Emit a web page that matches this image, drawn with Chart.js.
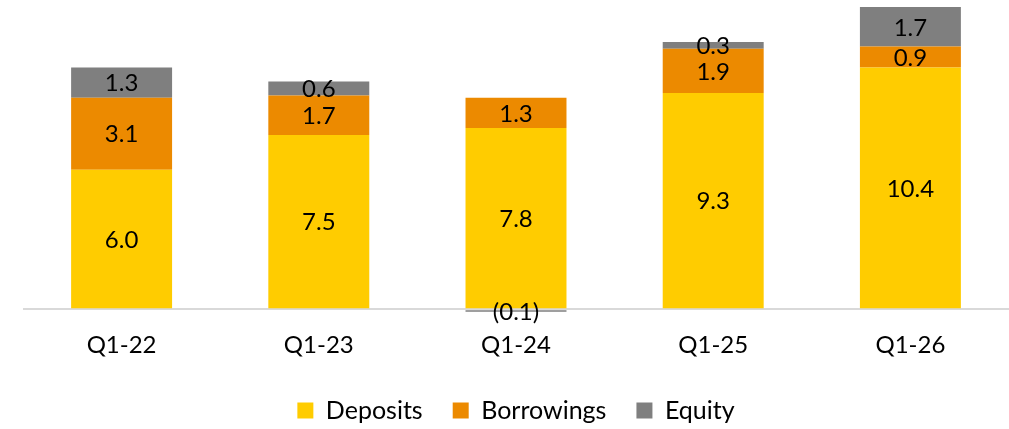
<!DOCTYPE html>
<html>
<head>
<meta charset="utf-8">
<script src="https://cdn.jsdelivr.net/npm/chart.js@4.4.1/dist/chart.umd.min.js"></script>
<style>
  html, body { margin: 0; padding: 0; background: #fff; }
  canvas { display: block; }
</style>
</head>
<body>
<canvas id="fundingChart" width="1009" height="429"></canvas>
<script>
const categories = ["Q1-22", "Q1-23", "Q1-24", "Q1-25", "Q1-26"];
const deposits = [6.0, 7.5, 7.8, 9.3, 10.4];
const borrowings = [3.1, 1.7, 1.3, 1.9, 0.9];
const equity = [1.3, 0.6, -0.1, 0.3, 1.7];

Chart.defaults.font.family = "Lato, 'Open Sans', sans-serif";
Chart.defaults.color = "#000";

const fmt = (v) => (v < 0 ? "(" + Math.abs(v).toFixed(1) + ")" : v.toFixed(1));

// values written in the middle of each stacked segment
const segmentLabels = {
  id: "segmentLabels",
  afterDatasetsDraw(chart) {
    const c = chart.ctx;
    c.save();
    c.font = "24px Lato";
    c.fillStyle = "#000";
    c.textAlign = "center";
    c.textBaseline = "middle";
    chart.data.datasets.forEach((ds, i) => {
      chart.getDatasetMeta(i).data.forEach((bar, j) => {
        const v = ds.data[j];
        c.fillText(fmt(v), bar.x, (bar.y + bar.base) / 2 + 1);
      });
    });
    c.restore();
  },
};

// pin legend height so it sits low like the original
const legendHeight = {
  id: "legendHeight",
  beforeInit(chart) {
    const fit = chart.legend.fit;
    chart.legend.fit = function () {
      fit.call(this);
      this.height = 61;
    };
  },
};

const ctx = document.getElementById("fundingChart");
new Chart(ctx, {
  type: "bar",
  data: {
    labels: categories,
    datasets: [
      { label: "Deposits", data: deposits, backgroundColor: "#FFCC00" },
      { label: "Borrowings", data: borrowings, backgroundColor: "#EC8A00" },
      { label: "Equity", data: equity, backgroundColor: "#7F7F7F" },
    ],
  },
  options: {
    responsive: false,
    animation: false,
    layout: { padding: { top: 7, left: 23, right: 0, bottom: 0 } },
    datasets: {
      bar: { barPercentage: 0.512, categoryPercentage: 1 },
    },
    scales: {
      x: {
        stacked: true,
        grid: { display: false, drawTicks: false },
        border: { display: false },
        ticks: { padding: 10, font: { size: 24 }, color: "#000" },
        afterFit: (scale) => {
          scale.height = 47;
        },
      },
      y: {
        stacked: true,
        min: -0.5,
        max: 13,
        ticks: { display: false, stepSize: 0.5 },
        border: { display: false },
        grid: {
          drawTicks: false,
          color: (c) => (c.tick && c.tick.value === 0 ? "#D9D9D9" : "transparent"),
          lineWidth: 2,
        },
      },
    },
    plugins: {
      legend: {
        position: "bottom",
        labels: {
          boxWidth: 16,
          boxHeight: 16,
          padding: 30,
          font: { size: 25 },
          color: "#000",
        },
      },
      tooltip: { enabled: false },
    },
  },
  plugins: [segmentLabels, legendHeight],
});
</script>
</body>
</html>
